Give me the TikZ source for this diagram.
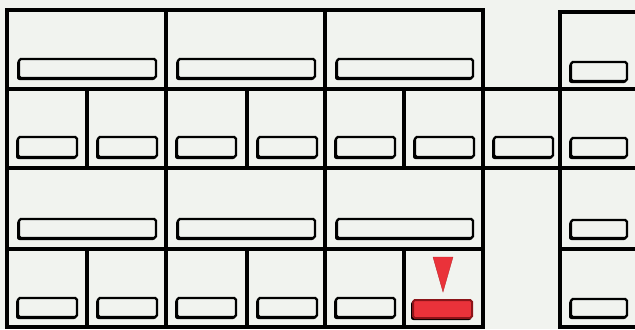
\documentclass[tikz,border=0pt]{standalone}
\usetikzlibrary{calc}
\definecolor{panelbg}{RGB}{241,243,239}
\definecolor{alertred}{RGB}{234,50,58}
\definecolor{alertedge}{RGB}{140,20,25}

% one push button: x1, y1, x2, y2 (pixels)
\newcommand{\panelslot}[5][slotbox]{%
  \fill[slotshadow] (#2-2,#3+1.6) rectangle (#4-0.6,#5+2);
  \draw[#1] (#2,#3) rectangle (#4,#5);}

\begin{document}
\begin{tikzpicture}[x=0.03cm,y=-0.03cm,
  cellbox/.style={draw=black, line width=0.1cm},
  slotbox/.style={draw=black, fill=panelbg, line width=0.07cm, rounded corners=1.5pt},
  slotshadow/.style={fill=black, rounded corners=2pt},
  alertslot/.style={draw=alertedge, fill=alertred, line width=0.06cm, rounded corners=1.5pt},
  alertmark/.style={fill=alertred, draw=alertred!80!black, line width=0.3pt}
]
\fill[panelbg] (0,0) rectangle (635,329);
\useasboundingbox (0,0) rectangle (635,329);

% wide panels, rows 1 and 3
\foreach \xa/\xb in {7/166,166/325,325/483}{
  \draw[cellbox] (\xa,10) rectangle (\xb,89);
  \panelslot{\xa+12}{59}{\xb-10}{78}
  \draw[cellbox] (\xa,168) rectangle (\xb,249);
  \panelslot{\xa+12}{219}{\xb-10}{238}
}

% narrow panels, row 2 (with the middle one)
\foreach \xa/\xb in {7/87,87/166,166/247,247/325,325/404,404/483,483/560}{
  \draw[cellbox] (\xa,89) rectangle (\xb,168);
  \panelslot{\xa+11}{137}{\xa+70}{157}
}

% narrow panels, row 4
\foreach \xa/\xb in {7/87,87/166,166/247,247/325,325/404}{
  \draw[cellbox] (\xa,249) rectangle (\xb,327);
  \panelslot{\xa+11}{298}{\xa+70}{317}
}
\draw[cellbox] (404,249) rectangle (483,327);
\panelslot[alertslot]{413}{300}{472}{318}
\fill[alertmark] (433,257) -- (453,257) -- (443,292) -- cycle;

% gap column edges
\draw[cellbox] (483,10) -- (483,327);

% right column
\foreach \ya/\yb/\sa/\sb in {12/89/62/81,89/168/138/157,168/249/220/238,249/327/299/317}{
  \draw[cellbox] (560,\ya) rectangle (650,\yb);
  \panelslot{571}{\sa}{627}{\sb}
}
\end{tikzpicture}
\end{document}
